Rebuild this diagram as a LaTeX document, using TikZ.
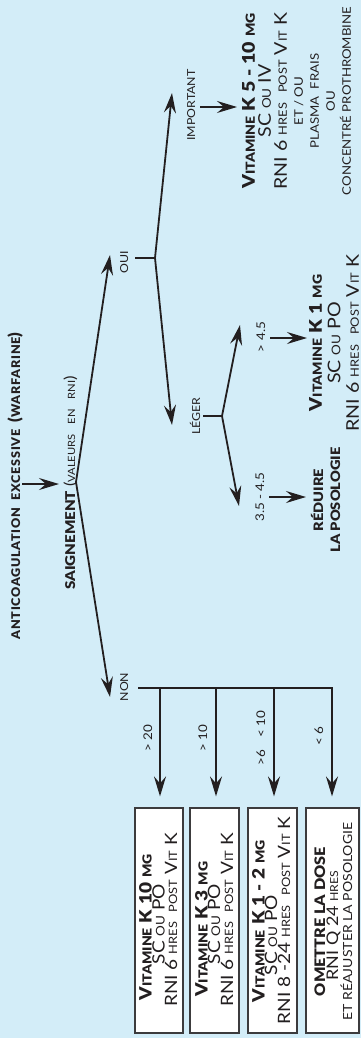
\documentclass[tikz,border=0pt]{standalone}
\usepackage{fontspec}
\setmainfont{Lato}[FakeStretch=1.12, BoldFont={Lato Black}, BoldFeatures={FakeStretch=1.12}]
\newfontfamily\spacedfont{Lato}[LetterSpace=6, FakeStretch=1.05, BoldFont={Lato Black}]
\usetikzlibrary{arrows.meta}

\definecolor{bg}{HTML}{D3EDF8}
\definecolor{ink}{HTML}{231F20}
\definecolor{frame}{HTML}{3C3B3D}

% reduced capitals standing in for small caps
\newcommand\smc[2][11.5]{{\fontsize{#1}{#1}\selectfont #2}}
% recurring treatment lines
\newcommand\vitk[1]{\textbf{V\smc[12.5]{ITAMINE}\hspace{5pt}K\hspace{5pt}#1\hspace{5pt}\smc[12.5]{MG}}}
\newcommand\scvia[1]{SC \smc[12]{OU} #1}
\newcommand\rnipost[1]{RNI #1 \smc{HRES}\ \ \smc{POST} V\smc{IT} K}

\tikzset{
  ln/.style={draw=ink, line width=1.8pt},
  arr/.style={draw=ink, line width=1.8pt,
    -{Stealth[length=20pt,width=12pt,inset=7pt]}},
  txt/.style={rotate=90, inner sep=0pt, text=ink, align=center},
  lab/.style={txt, anchor=base, font=\fontsize{11}{11}\selectfont},
  num/.style={txt, anchor=base, font=\fontsize{12}{12}\selectfont},
  bl/.style={txt, anchor=base, font=\fontsize{17}{17}\selectfont},
  rx/.style={draw=frame, line width=1.2pt, fill=white, rotate=90,
    minimum width=225pt, inner sep=0pt},
}

\begin{document}
\begin{tikzpicture}[x=1pt, y=-1pt]
  \fill[bg] (0,0) rectangle (361,1038);
  \useasboundingbox (0,0) rectangle (361,1038);

  % headings
  \node[txt, anchor=base, font=\spacedfont\bfseries\fontsize{12}{12}\selectfont]
    (title) at (20,486)
    {ANTICOAGULATION\ \ EXCESSIVE\ \ {\fontsize{16}{16}\selectfont(}WARFARINE{\fontsize{16}{16}\selectfont)}};
  \node[txt, anchor=base, font=\fontsize{13.5}{13.5}\selectfont]
    (bleed) at (75,483)
    {\textbf{SAIGNEMENT}\ {\fontsize{15}{15}\selectfont(}\smc[10]{VALEURS\quad EN\quad RNI}{\fontsize{15}{15}\selectfont)}};

  \coordinate (t0) at (22,484);
  \coordinate (t1) at (59,484);
  \draw[arr] (t0) -- (t1);

  % first split
  \coordinate (v0) at (76,482);
  \coordinate (ouiTip) at (110,255);
  \coordinate (nonTip) at (110,697);
  \draw[arr] (v0) -- (ouiTip);
  \draw[arr] (v0) -- (nonTip);
  \node[lab] (oui) at (128,262) {OUI};
  \node[lab] (non) at (128,687) {NON};

  % bleeding: severity split
  \coordinate (o0) at (135,258);
  \coordinate (o1) at (155,258);
  \coordinate (impTip) at (172,93);
  \coordinate (legTip) at (172,425);
  \draw[ln] (o0) -- (o1);
  \draw[arr] (o1) -- (impTip);
  \draw[arr] (o1) -- (legTip);
  \node[lab] (imp) at (195,105) {IMPORTANT};
  \node[lab] (leg) at (200,416) {LÉGER};

  \coordinate (i0) at (200,107);
  \coordinate (i1) at (237,107);
  \draw[arr] (i0) -- (i1);
  \node[txt, anchor=center, font={\lineskiplimit=-20pt\fontsize{17.5}{16}\selectfont}]
    (k5) at (296.5,101)
    {\vitk{5 - 10}\\
     \scvia{IV}\\
     \rnipost{6}\\
     \smc[11.8]{ET / OU}\\
     \smc[11.8]{PLASMA\ \ FRAIS}\\
     \smc[11.8]{OU}\\
     \smc[11.8]{CONCENTRÉ PROTHROMBINE}};

  % mild bleeding
  \coordinate (l0) at (203,416);
  \coordinate (l1) at (222,416);
  \coordinate (hiTip) at (240,325);
  \coordinate (loTip) at (239,506);
  \draw[ln] (l0) -- (l1);
  \draw[arr] (l1) -- (hiTip);
  \draw[arr] (l1) -- (loTip);
  \node[num] (gt45) at (265,337) {> 4.5};
  \node[num] (rng) at (264,497) {3.5 - 4.5};

  \coordinate (h0) at (270,338);
  \coordinate (h1) at (307,338);
  \draw[arr] (h0) -- (h1);
  \coordinate (r0) at (269,497);
  \coordinate (r1) at (306,497);
  \draw[arr] (r0) -- (r1);

  \node[txt, anchor=center, font={\lineskiplimit=-20pt\fontsize{17.5}{18.5}\selectfont}]
    (k1) at (334,343)
    {\vitk{1}\\
     \scvia{PO}\\
     \rnipost{6}};
  \node[txt, anchor=center, font={\lineskiplimit=-20pt\bfseries\fontsize{13}{17}\selectfont}]
    (red) at (325.5,500)
    {RÉDUIRE\\ LA POSOLOGIE};

  % no bleeding: INR ranges and their boxes
  \node[rx, minimum height=48pt] (b1) at (159,920.5) {};
  \node[rx, minimum height=49pt] (b2) at (214.5,920.5) {};
  \node[rx, minimum height=49pt] (b3) at (272.5,920.5) {};
  \node[rx, minimum height=53pt] (b4) at (332.5,920.5) {};

  \node[bl] (b1a) at (151.5,927) {\vitk{10}};
  \node[bl] (b1b) at (164.5,924) {\scvia{PO}};
  \node[bl] (b1c) at (177,920) {\rnipost{6}};

  \node[bl] (b2a) at (207.5,929) {\vitk{3}};
  \node[bl] (b2b) at (220,924) {\scvia{PO}};
  \node[bl] (b2c) at (233,920) {\rnipost{6}};

  \node[bl] (b3a) at (264.5,921) {\vitk{1 - 2}};
  \node[bl] (b3b) at (277,935) {\scvia{PO}};
  \node[bl] (b3c) at (290,920.5) {\rnipost{8 -24}};

  \node[bl] (b4a) at (325,921.5) {\textbf{\smc[14.5]{OMETTRE LA DOSE}}};
  \node[bl, font=\fontsize{16}{16}\selectfont] (b4b) at (338,925.5) {RNI Q 24 \smc[11]{HRES}};
  \node[bl] (b4c) at (352,921.5) {\smc[12.5]{ET RÉAJUSTER LA POSOLOGIE}};

  \coordinate (n0) at (138,688);
  \coordinate (n1) at (160,688);
  \coordinate (n2) at (216,688);
  \coordinate (n3) at (274,688);
  \coordinate (n4) at (332,688);
  \draw[arr, shorten >=11pt] (n0) -- (n4) -- (n4 |- b4.east);
  \draw[arr, shorten >=11pt] (n1) -- (n1 |- b1.east);
  \draw[arr, shorten >=11pt] (n2) -- (n2 |- b2.east);
  \draw[arr, shorten >=11pt] (n3) -- (n3 |- b3.east);

  \node[num] (c1) at (152,738) {> 20};
  \node[num] (c2) at (207,738) {> 10};
  \node[num] (c3) at (265,738) {>6\quad< 10};
  \node[num] (c4) at (323,736) {< 6};
\end{tikzpicture}
\end{document}
